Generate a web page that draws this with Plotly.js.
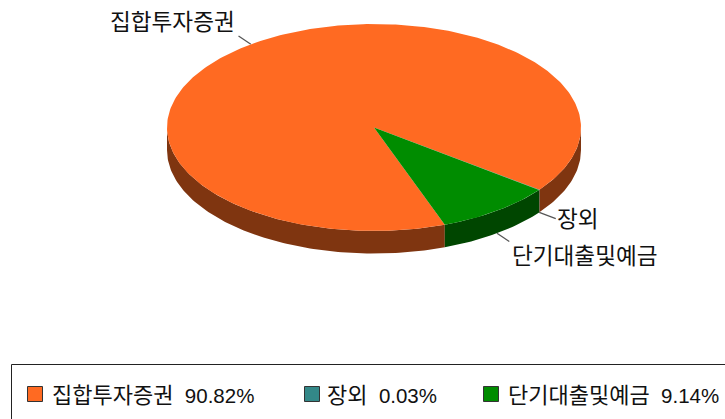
<!DOCTYPE html>
<html><head><meta charset="utf-8">
<script src="https://cdn.plot.ly/plotly-3.0.1.min.js"></script>
<style>html,body{margin:0;padding:0;background:#fff;overflow:hidden}#c{width:725px;height:419px}</style>
</head><body><div id="c"></div>
<script>
const categories = ["집합투자증권", "장외", "단기대출및예금"];
const shares = [90.82, 0.03, 9.14];
const topColors = ["#FF6A22", "#338888", "#008C00"];
const sideColors = ["#7F3510", "#194444", "#004600"];

const FONT = '"Liberation Sans","Noto Sans CJK KR",sans-serif';
const cx = 374, cy = 127.5, rx = 207, ry = 103.5, depth = 22.5, startDeg = 160;
const calloutAt = [[108, 22, "left"], [555, 219, "left"], [510, 256, "left"]];
const swatchX = [35, 312, 491], legendTextX = [50, 325, 506], legendY = 395;

const total = shares.reduce((a, b) => a + b, 0);
const pt = (deg, k = 1, dy = 0) => {
  const r = deg * Math.PI / 180;
  return [cx + rx * k * Math.sin(r), cy - ry * k * Math.cos(r) + dy];
};
const arc = (a, b) => {
  const out = [];
  const n = Math.max(1, Math.ceil(Math.abs(b - a)));
  for (let i = 0; i <= n; i++) out.push(a + (b - a) * i / n);
  return out;
};
const poly = (pts, color) => ({
  type: "scatter", mode: "lines", x: pts.map(p => p[0]), y: pts.map(p => p[1]),
  fill: "toself", fillcolor: color, line: { width: 0, color }, hoverinfo: "skip", showlegend: false
});
const hangul = (s, px) => `<span style="font-size:${px}px">${s}</span>`;

const sides = [], tops = [], leaders = [], notes = [];
let a = startDeg;
shares.forEach((v, i) => {
  const b = a + v / total * 360;
  [[90, 270], [450, 630]].forEach(([lo, hi]) => {
    const s = Math.max(a, lo), e = Math.min(b, hi);
    if (e > s) {
      const ang = arc(s, e);
      const pts = ang.map(d => pt(d)).concat(ang.slice().reverse().map(d => pt(d, 1, depth)));
      sides.push(poly(pts, sideColors[i]));
    }
  });
  tops.push(poly([[cx, cy]].concat(arc(a, b).map(d => pt(d))), topColors[i]));
  const mid = (a + b) / 2, m = ((mid % 360) + 360) % 360;
  const dy = (m > 90 && m < 270) ? depth : 0;
  const p0 = pt(mid, 1, dy), p1 = pt(mid, 1.1, dy);
  leaders.push({ type: "scatter", mode: "lines", x: [p0[0], p1[0]], y: [p0[1], p1[1]],
    line: { color: "#555555", width: 1.2 }, hoverinfo: "skip", showlegend: false });
  notes.push({ x: calloutAt[i][0], y: calloutAt[i][1], xref: "x", yref: "y", text: hangul(categories[i], 22.6),
    xanchor: calloutAt[i][2], yanchor: "middle", showarrow: false, font: { family: FONT, size: 20.5, color: "#111" } });
  notes.push({ x: legendTextX[i], y: legendY, xref: "x", yref: "y",
    text: hangul(categories[i], 22) + "\u00A0\u00A0" + shares[i].toFixed(2) + "%",
    xanchor: "left", yanchor: "middle", showarrow: false, font: { family: FONT, size: 20.5, color: "#111" } });
  a = b;
});

const swatches = {
  type: "scatter", mode: "markers", x: swatchX, y: swatchX.map(() => 394),
  marker: { symbol: "square", size: 15, color: topColors, line: { color: "#333", width: 1 } },
  hoverinfo: "skip", showlegend: false
};

Plotly.newPlot("c", [...leaders, ...sides, ...tops, swatches], {
  width: 725, height: 419, margin: { l: 0, r: 0, t: 0, b: 0 },
  paper_bgcolor: "#fff", plot_bgcolor: "#fff", showlegend: false,
  xaxis: { range: [0, 725], visible: false, fixedrange: true },
  yaxis: { range: [419, 0], visible: false, fixedrange: true },
  annotations: notes,
  shapes: [{ type: "rect", xref: "x", yref: "y", x0: 11.5, x1: 800, y0: 364.5, y1: 500, line: { color: "#222", width: 1 }, layer: "below" }]
}, { displayModeBar: false, staticPlot: true });
</script></body></html>
